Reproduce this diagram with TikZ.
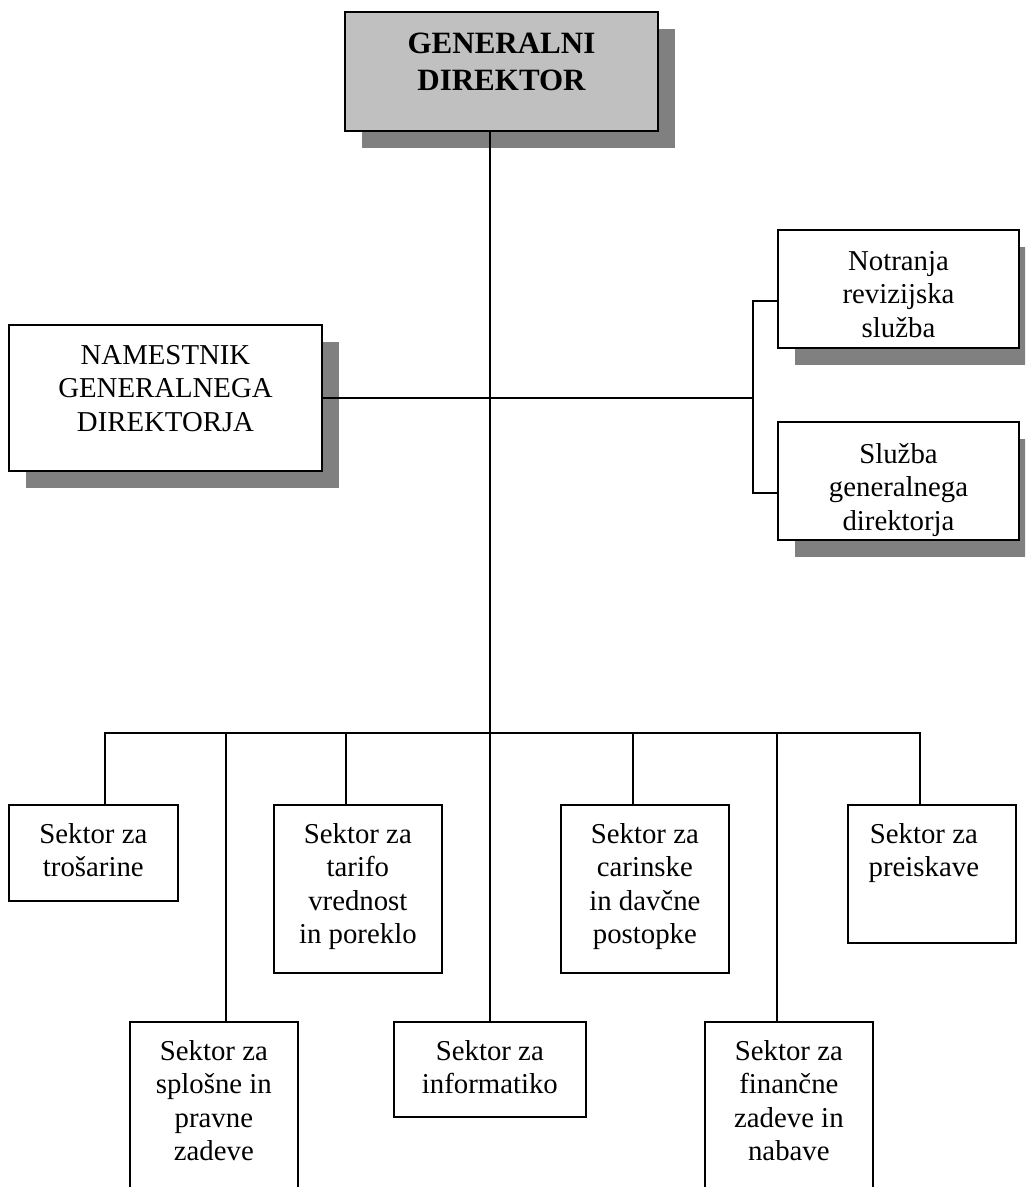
\documentclass[tikz,border=0pt]{standalone}
\usepackage{fontspec}
\setmainfont{Liberation Serif}
\usetikzlibrary{shadows}
\definecolor{chiefgray}{HTML}{C0C0C0}
\definecolor{shadowgray}{HTML}{808080}
\tikzset{
  unit/.style={draw, line width=0.85pt, inner sep=0pt, anchor=north west},
  chief/.style={unit, line width=1pt, fill=white,
    drop shadow={shadow xshift=8.5pt, shadow yshift=-8.5pt, fill=shadowgray, opacity=1}},
  boxtext/.style={anchor=north, align=center, inner sep=0pt, font=\fontsize{14.4}{16.7}\selectfont},
  link/.style={line width=0.9pt},
}
\begin{document}
\begin{tikzpicture}[x=0.5pt, y=-0.5pt]
\clip (0,0) rectangle (1025,1187);
% vodstvo
\node[chief, fill=chiefgray, minimum width=156.5pt, minimum height=59.5pt,
  label={[boxtext, yshift=-11pt, font=\fontsize{15.5}{18.5}\selectfont\bfseries]north:{GENERALNI\\DIREKTOR}}] (gd) at (344,11) {};
\node[chief, minimum width=156.5pt, minimum height=73pt,
  label={[boxtext, yshift=-10.5pt]north:{NAMESTNIK\\GENERALNEGA\\DIREKTORJA}}] (nam) at (8,324) {};
\node[chief, minimum width=120.5pt, minimum height=59pt,
  label={[boxtext, yshift=-11pt]north:{Notranja\\revizijska\\služba}}] (rev) at (777,229) {};
\node[chief, minimum width=120.5pt, minimum height=59pt,
  label={[boxtext, yshift=-11pt]north:{Služba\\generalnega\\direktorja}}] (sgd) at (777,421) {};
% sektorji
\node[unit, minimum width=84.5pt, minimum height=48pt,
  label={[boxtext, yshift=-9.5pt]north:{Sektor za\\trošarine}}] (tro) at (8,804) {};
\node[unit, minimum width=84pt, minimum height=84pt,
  label={[boxtext, yshift=-9.5pt]north:{Sektor za\\tarifo\\vrednost\\in poreklo}}] (tar) at (273,804) {};
\node[unit, minimum width=84pt, minimum height=84pt,
  label={[boxtext, yshift=-9.5pt]north:{Sektor za\\carinske\\in davčne\\postopke}}] (car) at (560,804) {};
\node[unit, minimum width=84pt, minimum height=69pt,
  label={[boxtext, yshift=-9.5pt, xshift=-4pt]north:{Sektor za\\preiskave}}] (pre) at (847,804) {};
\node[unit, minimum width=84pt, minimum height=89.5pt,
  label={[boxtext, yshift=-9.5pt]north:{Sektor za\\splošne in\\pravne\\zadeve}}] (spl) at (129,1021) {};
\node[unit, minimum width=96pt, minimum height=47.5pt,
  label={[boxtext, yshift=-9.5pt]north:{Sektor za\\informatiko}}] (inf) at (393,1021) {};
\node[unit, minimum width=84pt, minimum height=89.5pt,
  label={[boxtext, yshift=-9.5pt]north:{Sektor za\\finančne\\zadeve in\\nabave}}] (fin) at (704,1021) {};
% povezave
\draw[link] (gd.south -| inf.north) -- (inf.north);
\coordinate (brk) at (753,397);
\draw[link] (nam.east) -- (nam.east -| brk);
\draw[link] ([yshift=-6pt]rev.west) -| (brk) |- ([yshift=-6pt]sgd.west);
\coordinate (bus) at (489,733);
\draw[link] ([xshift=6pt]tro.north) |- ([xshift=-6pt]pre.north |- bus) -- ([xshift=-6pt]pre.north);
\foreach \b/\dx in {spl/6pt, tar/-6pt, car/-6pt, fin/-6pt}
  \draw[link] ([xshift=\dx]\b.north |- bus) -- ([xshift=\dx]\b.north);
\end{tikzpicture}
\end{document}
